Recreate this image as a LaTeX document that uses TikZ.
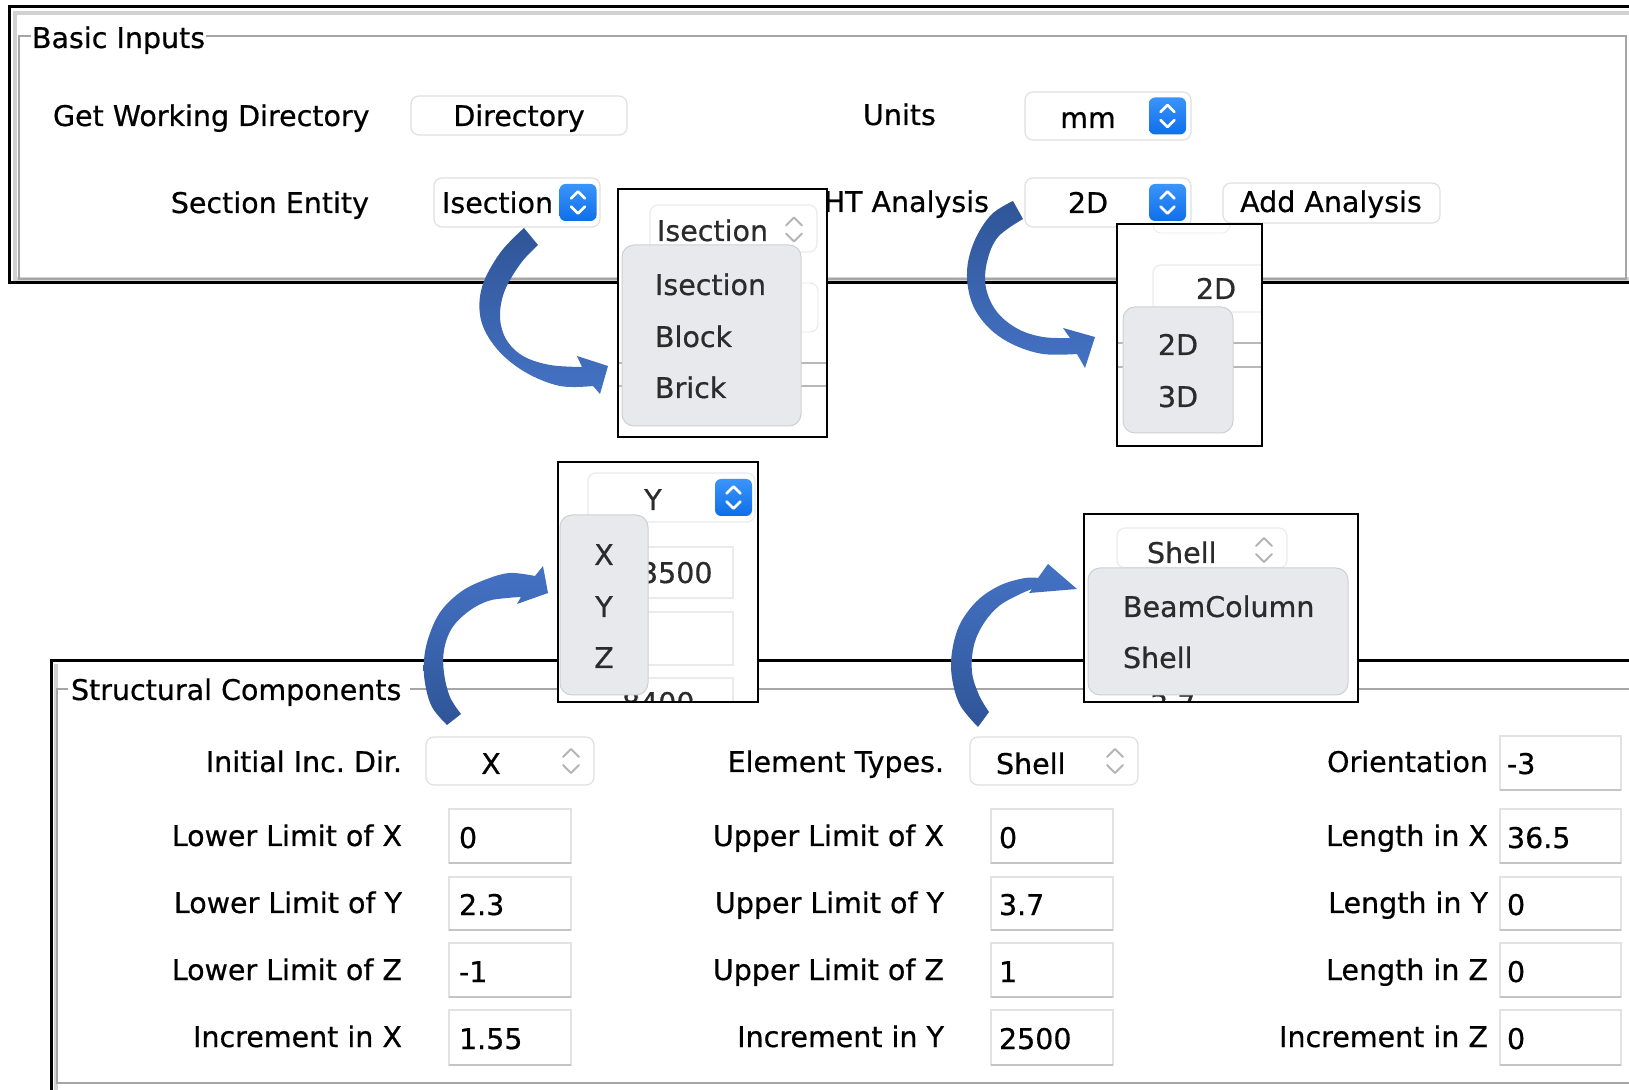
\documentclass[tikz,border=0pt]{standalone}
\usepackage{fontspec}
\setmainfont{DejaVu Sans}[FakeBold=0.6]
\newcommand\uifont{\fontsize{14.25}{17}\selectfont\frenchspacing}

\definecolor{frameblack}{HTML}{000000}
\definecolor{panelgray}{HTML}{D2D2D2}
\definecolor{groupgray}{HTML}{A6A6A6}
\definecolor{boxline}{HTML}{E0E0E0}
\definecolor{fieldline}{HTML}{E2E2E2}
\definecolor{fieldshade}{HTML}{C4C4C4}
\definecolor{menugray}{HTML}{E8E9EC}
\definecolor{menuline}{HTML}{D0D0D4}
\definecolor{itemtext}{HTML}{2B2B2B}
\definecolor{stepblueA}{HTML}{3A94FA}
\definecolor{stepblueB}{HTML}{0F6FEA}
\definecolor{chevgray}{HTML}{B4B4B4}
\definecolor{arrowdark}{HTML}{2F5597}
\definecolor{arrowlight}{HTML}{4472C4}
\definecolor{ghostline}{HTML}{B8B8B8}

\tikzset{
  lbl/.style={font=\uifont, inner sep=0pt, outer sep=0pt, text=black},
  itm/.style={font=\uifont, inner sep=0pt, outer sep=0pt, text=itemtext},
  blackframe/.style={draw=frameblack, line width=1.5pt},
  innerband/.style={draw=panelgray, line width=1.6pt},
  groupline/.style={draw=groupgray, line width=0.9pt},
  btnbox/.style={fill=white, draw=boxline, line width=0.6pt, rounded corners=4pt},
  fieldbox/.style={fill=white, draw=fieldline, line width=0.6pt},
  fieldbase/.style={draw=fieldshade, line width=0.9pt},
  menubox/.style={fill=menugray, draw=menuline, line width=0.5pt, rounded corners=6pt},
  insetframe/.style={draw=frameblack, line width=1.25pt},
  ghost/.style={draw=ghostline, line width=0.6pt},
  arrowdown/.style={top color=arrowdark, bottom color=arrowlight},
  arrowup/.style={top color=arrowlight, bottom color=arrowdark},
  bstep/.pic={
    \shade[top color=stepblueA, bottom color=stepblueB, rounded corners=3pt]
      (-18.5,-18.5) rectangle (18.5,18.5);
    \draw[white, line width=1.3pt, line cap=round, line join=round]
      (-7,-4) -- (0,-11) -- (7,-4) (-7,4) -- (0,11) -- (7,4);
  },
  gstep/.pic={
    \draw[chevgray, line width=1pt, line cap=round, line join=round]
      (-8,-4) -- (0,-12) -- (8,-4) (-8,4) -- (0,12) -- (8,4);
  }
}

\begin{document}
\begin{tikzpicture}[x=0.5pt,y=-0.5pt]
\useasboundingbox (0,0) rectangle (1629,1090);
\fill[white] (0,0) rectangle (1629,1090);
\begin{scope}
\clip (0,0) rectangle (1629,1090);

% ---------- Basic Inputs panel ----------
\draw[innerband] (1640,13) -- (15,13) -- (15,279) -- (1640,279);
\draw[groupline] (31,36) -- (19,36) -- (19,279) -- (1626,279) -- (1626,36) -- (206,36);
\draw[blackframe] (1640,7) -- (9,7) -- (9,283) -- (1640,283);

\node[lbl, anchor=base west] (basic) at (32,48) {Basic Inputs};

\node[lbl, anchor=base west] (gwd) at (53,126) {Get Working Directory};
\draw[btnbox] (411,96) rectangle (627,135);
\node[lbl, anchor=base] (dirbtn) at (519,126) {Directory};

\node[lbl, anchor=base west] (units) at (863,125) {Units};
\draw[btnbox] (1025,92) rectangle (1191,140);
\node[lbl, anchor=base] (mm) at (1088,128) {mm};
\pic at (1167.5,116) {bstep};

\node[lbl, anchor=base east] (secent) at (369,213) {Section Entity};
\draw[btnbox] (434,178) rectangle (600,227);
\node[lbl, anchor=base west] (isec) at (442,213) {Isection};
\pic at (578,202.5) {bstep};

\node[lbl, anchor=base east] (htan) at (989,212) {HT Analysis};
\draw[btnbox] (1025,178) rectangle (1191,227);
\node[lbl, anchor=base] (twod) at (1088,213) {2D};
\pic at (1167.5,202.5) {bstep};

\draw[btnbox] (1223,183) rectangle (1440,223);
\node[lbl, anchor=base] (addan) at (1331,212) {Add Analysis};

% ---------- Structural Components panel ----------
\draw[innerband] (56,664) -- (56,1100);
\draw[groupline] (68,689) -- (57,689) -- (57,1083) -- (1640,1083);
\draw[groupline] (410,689) -- (1640,689);
\draw[blackframe] (1640,661) -- (51,661) -- (51,1100);

\node[lbl, anchor=base west] (struct) at (71,700) {Structural Components};

% column 1
\node[lbl, anchor=base east] (iid) at (402,772) {Initial Inc. Dir.};
\draw[btnbox] (426,737) rectangle (594,785);
\node[lbl, anchor=base] (iidval) at (491,774) {X};
\pic at (571,761) {gstep};

\node[lbl, anchor=base east] (llx) at (402,846) {Lower Limit of X};
\node[lbl, anchor=base east] (lly) at (402,913) {Lower Limit of Y};
\node[lbl, anchor=base east] (llz) at (402,980) {Lower Limit of Z};
\node[lbl, anchor=base east] (incx) at (402,1047) {Increment in X};

% column 2
\node[lbl, anchor=base east] (etyp) at (944,772) {Element Types.};
\draw[btnbox] (970,737) rectangle (1138,785);
\node[lbl, anchor=base west] (etypval) at (996,774) {Shell};
\pic at (1115,761) {gstep};

\node[lbl, anchor=base east] (ulx) at (944,846) {Upper Limit of X};
\node[lbl, anchor=base east] (uly) at (944,913) {Upper Limit of Y};
\node[lbl, anchor=base east] (ulz) at (944,980) {Upper Limit of Z};
\node[lbl, anchor=base east] (incy) at (944,1047) {Increment in Y};

% column 3
\node[lbl, anchor=base east] (orient) at (1488,772) {Orientation};
\draw[fieldbox] (1500,736) rectangle (1621,790);
\draw[fieldbase] (1500,790) -- (1621,790);
\node[lbl, anchor=base west] (orientval) at (1507,774) {-3};

\node[lbl, anchor=base east] (lenx) at (1488,846) {Length in X};
\node[lbl, anchor=base east] (leny) at (1488,913) {Length in Y};
\node[lbl, anchor=base east] (lenz) at (1488,980) {Length in Z};
\node[lbl, anchor=base east] (incz) at (1488,1047) {Increment in Z};

% entry fields of rows 2-5
\foreach \top/\bot in {809/863, 877/930, 943/997, 1010/1065}{
  \foreach \xl/\xr in {449/571, 991/1113, 1500/1621}{
    \draw[fieldbox] (\xl,\top) rectangle (\xr,\bot);
    \draw[fieldbase] (\xl,\bot) -- (\xr,\bot);
  }
}
\node[lbl, anchor=base west] (v11) at (459,848) {0};
\node[lbl, anchor=base west] (v12) at (459,915) {2.3};
\node[lbl, anchor=base west] (v13) at (459,982) {-1};
\node[lbl, anchor=base west] (v14) at (459,1049) {1.55};
\node[lbl, anchor=base west] (v21) at (999,848) {0};
\node[lbl, anchor=base west] (v22) at (999,915) {3.7};
\node[lbl, anchor=base west] (v23) at (999,982) {1};
\node[lbl, anchor=base west] (v24) at (999,1049) {2500};
\node[lbl, anchor=base west] (v31) at (1507,848) {36.5};
\node[lbl, anchor=base west] (v32) at (1507,915) {0};
\node[lbl, anchor=base west] (v33) at (1507,982) {0};
\node[lbl, anchor=base west] (v34) at (1507,1049) {0};

% ---------- Dropdown close-ups ----------
% Section Entity list
\fill[white] (618,189) rectangle (827,437);
\begin{scope}
  \clip (618,189) rectangle (827,437);
  \draw[btnbox, draw=black!8] (650,205) rectangle (817,252);
  \node[itm, anchor=base west] (secsel) at (657,241) {Isection};
  \pic at (794,229.5) {gstep};
  \draw[draw=black!10, rounded corners=4pt] (700,283) rectangle (818,332);
  \draw[ghost] (618,363) -- (827,363) (618,386) -- (827,386);
  \draw[menubox] (622,245) rectangle (801,426);
  \node[itm, anchor=base west] (secA) at (655,295) {Isection};
  \node[itm, anchor=base west] (secB) at (655,347) {Block};
  \node[itm, anchor=base west] (secC) at (655,398) {Brick};
\end{scope}
\draw[insetframe] (618,189) rectangle (827,437);

% HT Analysis list
\fill[white] (1117,224) rectangle (1262,446);
\begin{scope}
  \clip (1117,224) rectangle (1262,446);
  \draw[draw=black!8, rounded corners=4pt] (1153,200) rectangle (1230,233);
  \draw[btnbox, draw=black!8] (1153,265) rectangle (1280,312);
  \node[itm, anchor=base] (htsel) at (1216,299) {2D};
  \draw[ghost] (1117,343) -- (1262,343) (1117,367) -- (1262,367);
  \draw[menubox] (1123,307) rectangle (1233,433);
  \node[itm, anchor=base] (htA) at (1178,355) {2D};
  \node[itm, anchor=base] (htB) at (1178,407) {3D};
\end{scope}
\draw[insetframe] (1117,224) rectangle (1262,446);

% Initial increment direction list
\fill[white] (558,462) rectangle (758,702);
\begin{scope}
  \clip (558,462) rectangle (758,702);
  \draw[btnbox, draw=black!8] (588,473) rectangle (755,522);
  \node[itm, anchor=base] (dirsel) at (653,510) {Y};
  \pic at (733.5,497.5) {bstep};
  \draw[fieldbox, draw=black!8] (638,547) rectangle (733,598);
  \node[itm, anchor=base west] (dirv1) at (640,583) {3500};
  \draw[fieldbox, draw=black!8] (638,612) rectangle (733,665);
  \draw[fieldbox, draw=black!8] (638,678) rectangle (733,730);
  \node[itm, anchor=base west] (dirv3) at (622,713) {8400};
  \draw[menubox] (560,515) rectangle (648,695);
  \node[itm, anchor=base] (dirX) at (604,565) {X};
  \node[itm, anchor=base] (dirY) at (604,617) {Y};
  \node[itm, anchor=base] (dirZ) at (604,668) {Z};
\end{scope}
\draw[insetframe] (558,462) rectangle (758,702);

% Element type list
\fill[white] (1084,514) rectangle (1358,702);
\begin{scope}
  \clip (1084,514) rectangle (1358,702);
  \draw[btnbox, draw=black!8] (1117,528) rectangle (1287,568);
  \node[itm, anchor=base west] (elsel) at (1147,563) {Shell};
  \pic at (1264,550) {gstep};
  \node[itm, anchor=base west] (elv) at (1150,715) {3.7};
  \draw[menubox] (1088,568) rectangle (1348,695);
  \node[itm, anchor=base west] (elA) at (1123,617) {BeamColumn};
  \node[itm, anchor=base west] (elB) at (1123,668) {Shell};
\end{scope}
\draw[insetframe] (1084,514) rectangle (1358,702);

% ---------- Curved block arrows ----------
% Section Entity -> its list
\path[arrowdown]
  plot[smooth, tension=0.6] coordinates {(524,228) (500,253) (482,287) (481,320) (497,349) (525,372) (560,386) (593,386)}
  -- (600,394) -- (608,366) -- (577,356) --
  plot[smooth, tension=0.6] coordinates {(582,367) (550,365) (523,356) (506,339) (500,316) (505,290) (521,263) (538,245)}
  -- cycle;
% HT Analysis -> its list
\path[arrowdown]
  plot[smooth, tension=0.6] coordinates {(1013,201) (991,215) (974,242) (967,272) (972,303) (988,327) (1012,344) (1043,354) (1077,354)}
  -- (1085,368) -- (1095,337) -- (1063,328) --
  plot[smooth, tension=0.6] coordinates {(1070,338) (1043,337) (1018,329) (997,312) (986,288) (987,262) (998,237) (1023,219)}
  -- cycle;
% Initial Inc. Dir. -> its list
\path[arrowup]
  plot[smooth, tension=0.6] coordinates {(447,725) (432,707) (425,683) (424,660) (429,636) (441,611) (462,591) (487,579) (510,573) (535,576)}
  -- (543,566) -- (548,593) -- (517,604) --
  plot[smooth, tension=0.6] coordinates {(521,597) (507,598) (488,601) (469,611) (452,628) (444,650) (444,673) (450,697) (461,714)}
  -- cycle;
% Element Types -> its list
\path[arrowup]
  plot[smooth, tension=0.6] coordinates {(978,727) (960,705) (952,678) (952,652) (960,624) (978,600) (1001,585) (1025,578) (1038,578)}
  -- (1048,564) -- (1077,589) -- (1029,593) --
  plot[smooth, tension=0.6] coordinates {(1032,589) (1018,595) (999,606) (984,623) (974,645) (972,672) (979,695) (989,712)}
  -- cycle;

\end{scope}
\end{tikzpicture}
\end{document}
